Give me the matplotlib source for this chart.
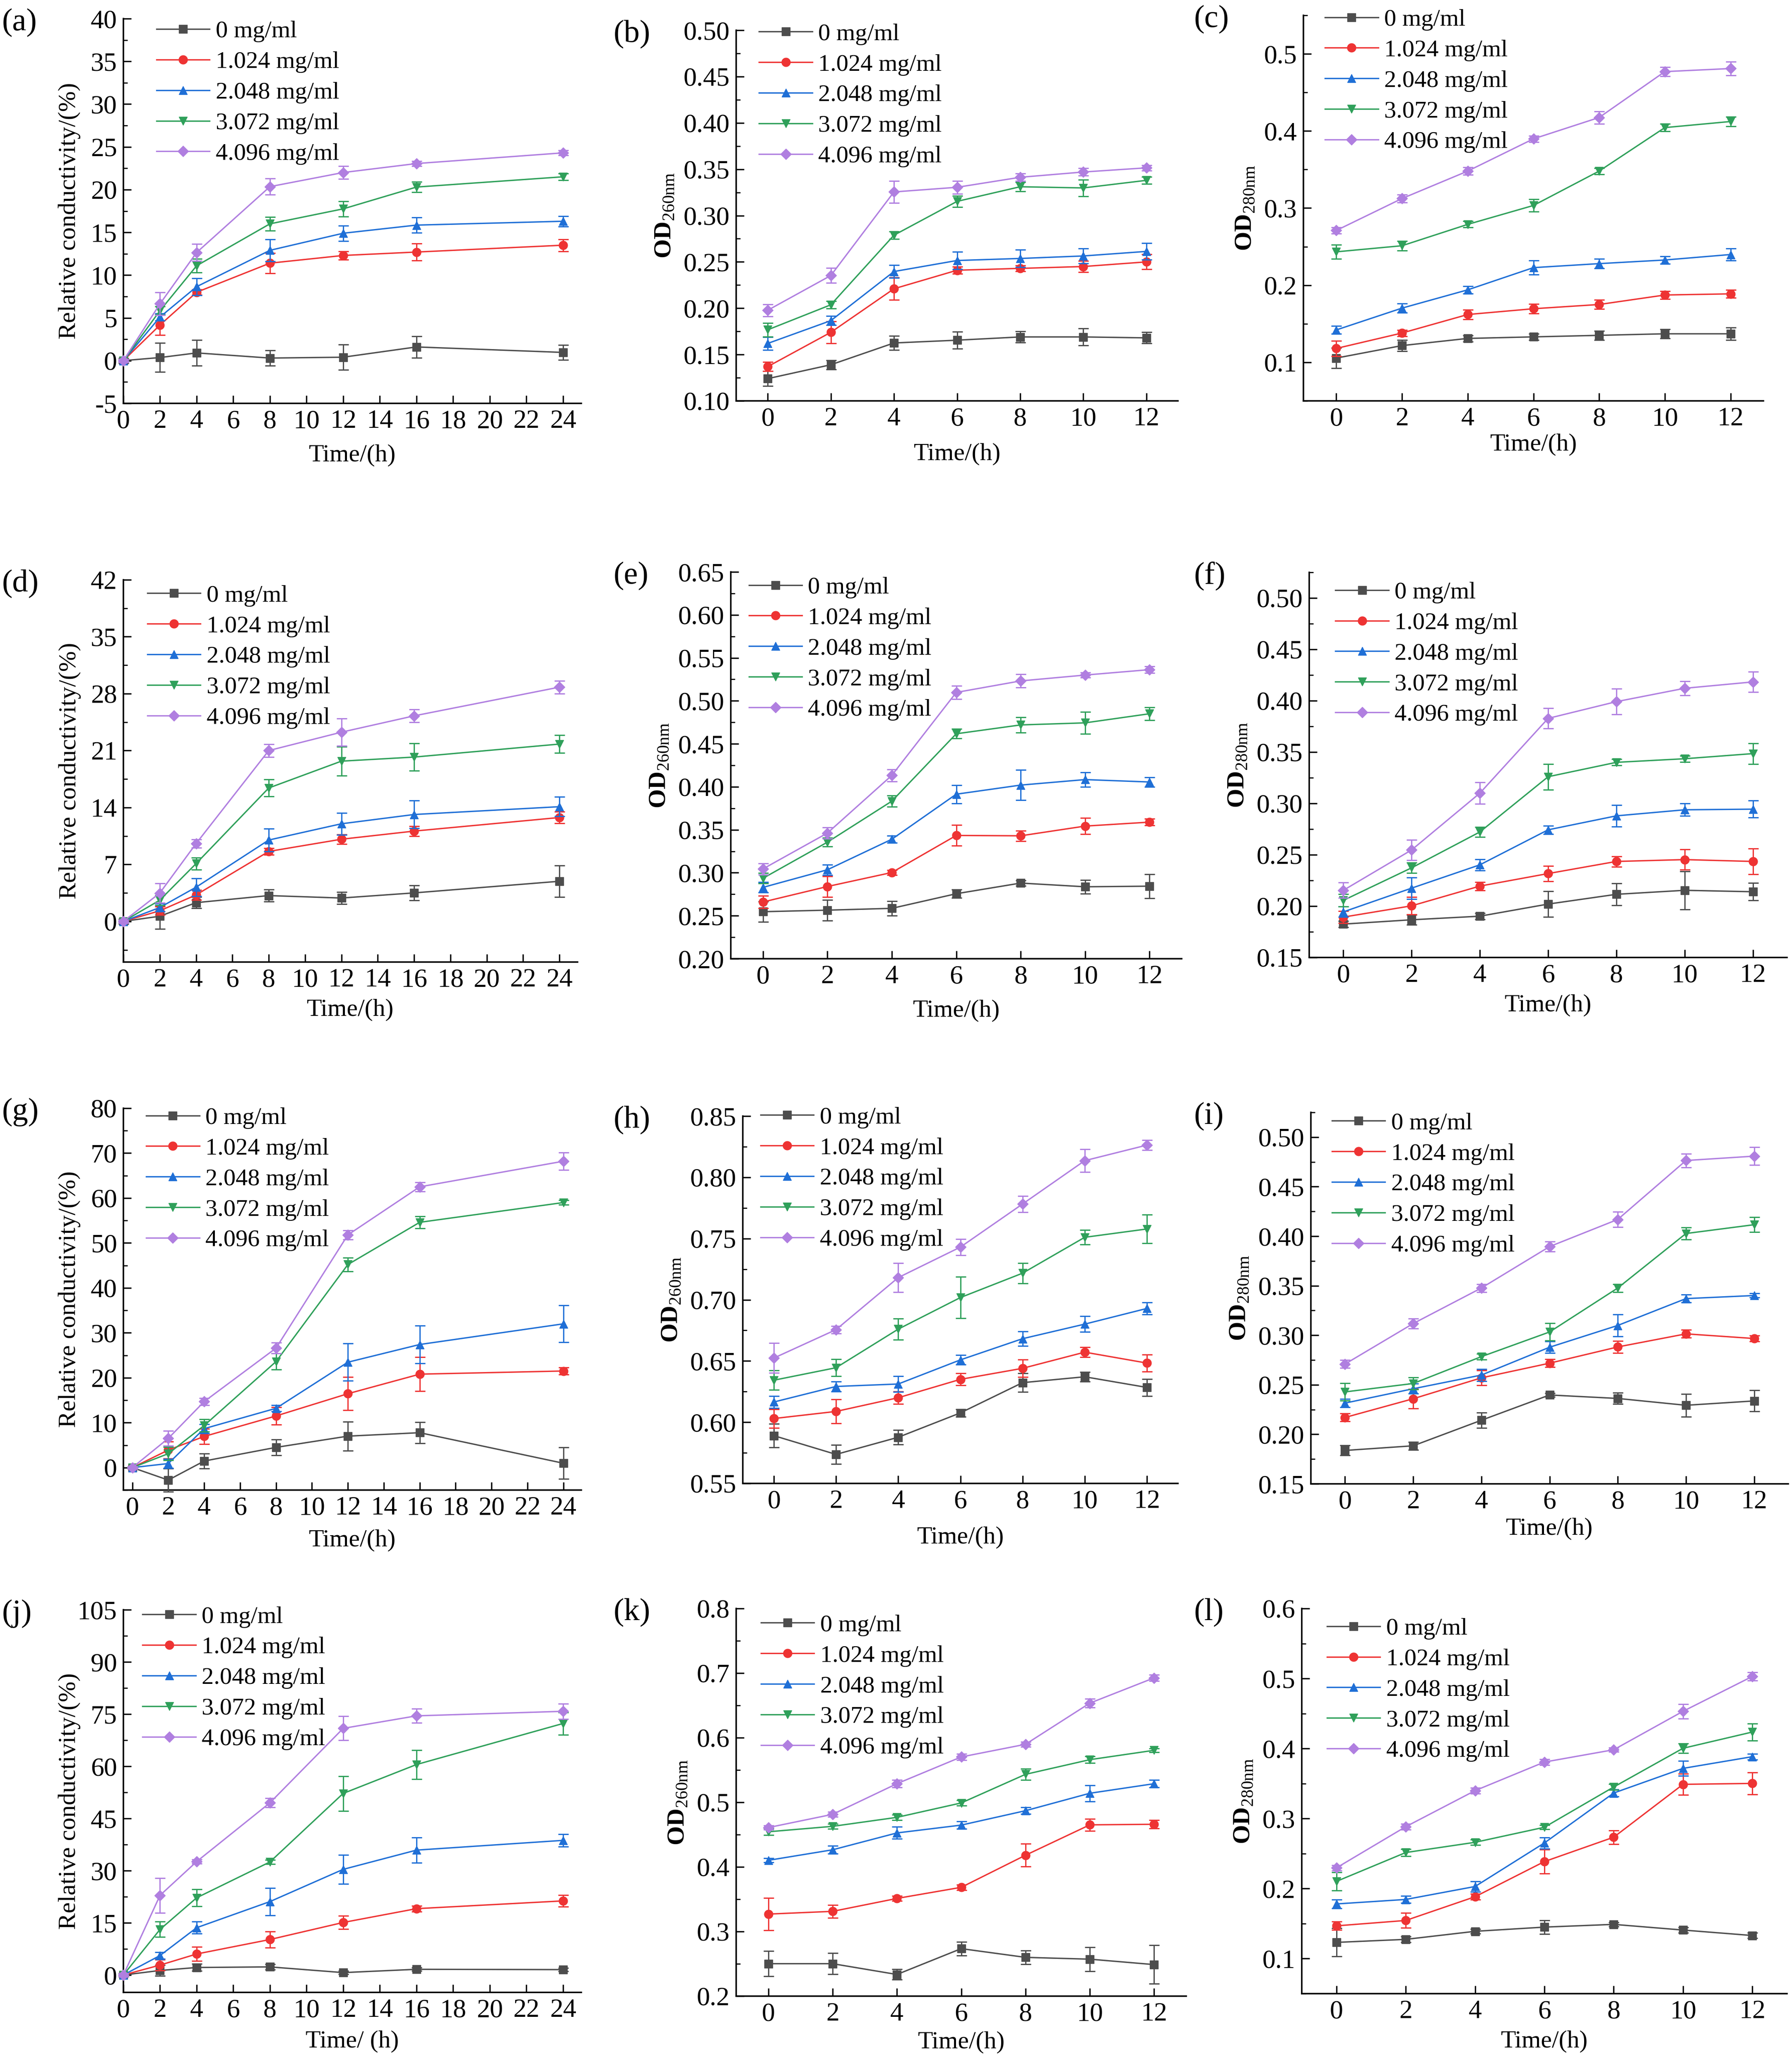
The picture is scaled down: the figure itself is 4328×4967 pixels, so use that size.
import numpy as np
import matplotlib
matplotlib.use('Agg')
import matplotlib.pyplot as plt
from matplotlib.ticker import MultipleLocator, FormatStrFormatter

plt.rcParams['font.family'] = ['Liberation Serif', 'DejaVu Serif']
plt.rcParams['mathtext.fontset'] = 'custom'
plt.rcParams['mathtext.rm'] = 'Liberation Serif'
plt.rcParams['mathtext.bf'] = 'Liberation Serif:bold'
plt.rcParams['axes.unicode_minus'] = False

# series names / colours / markers
conc = ['0 mg/ml', '1.024 mg/ml', '2.048 mg/ml', '3.072 mg/ml', '4.096 mg/ml']
colors = ['#4d4d4d', '#ee3333', '#1f6fd6', '#2fa05a', '#b07fe0']
markers = ['s', 'o', '^', 'v', 'D']

t_long = [0, 2, 4, 8, 12, 16, 24]
t_short = [0, 2, 4, 6, 8, 10, 12]

# (a) relative conductivity
a_mean = [[0, 0.36, 0.9, 0.3, 0.4, 1.6, 0.96],
          [0, 4.17, 8.0, 11.4, 12.3, 12.7, 13.5],
          [0, 5.1, 8.65, 12.9, 14.9, 15.85, 16.3],
          [0, 5.85, 11.1, 16.0, 17.75, 20.3, 21.5],
          [0, 6.65, 12.65, 20.35, 22.0, 23.05, 24.3]]
a_err = [[0.3, 1.7, 1.5, 0.9, 1.5, 1.25, 0.85],
         [0.2, 1.2, 0.3, 1.2, 0.5, 1.0, 0.7],
         [0.2, 0.4, 1.0, 1.3, 0.9, 0.9, 0.6],
         [0.2, 0.5, 0.8, 0.8, 0.9, 0.6, 0.4],
         [0.2, 1.35, 1.0, 0.95, 0.75, 0.3, 0.3]]

# (b) OD260
b_mean = [[0.124, 0.139, 0.1625, 0.1655, 0.169, 0.169, 0.168],
          [0.137, 0.174, 0.221, 0.241, 0.243, 0.245, 0.250],
          [0.162, 0.1866, 0.2396, 0.2515, 0.2537, 0.2564, 0.2613],
          [0.1767, 0.2037, 0.2788, 0.3153, 0.3311, 0.3298, 0.338],
          [0.1978, 0.2353, 0.3255, 0.3305, 0.3413, 0.347, 0.3515]]
b_err = [[0.008, 0.005, 0.0075, 0.009, 0.006, 0.009, 0.006],
         [0.005, 0.012, 0.012, 0.004, 0.003, 0.006, 0.008],
         [0.007, 0.005, 0.007, 0.0095, 0.0095, 0.008, 0.009],
         [0.0075, 0.004, 0.004, 0.006, 0.005, 0.009, 0.004],
         [0.0065, 0.008, 0.012, 0.007, 0.004, 0.004, 0.003]]

# (c) OD280
c_mean = [[0.1055, 0.1217, 0.131, 0.133, 0.135, 0.137, 0.137],
          [0.118, 0.138, 0.162, 0.1695, 0.175, 0.1873, 0.1888],
          [0.142, 0.1703, 0.194, 0.2228, 0.228, 0.2327, 0.2398],
          [0.2433, 0.2512, 0.2789, 0.3034, 0.348, 0.4044, 0.4123],
          [0.271, 0.3124, 0.348, 0.3898, 0.4175, 0.477, 0.481]]
c_err = [[0.013, 0.007, 0.004, 0.004, 0.006, 0.006, 0.008],
         [0.01, 0.004, 0.006, 0.006, 0.006, 0.005, 0.005],
         [0.005, 0.006, 0.005, 0.009, 0.006, 0.005, 0.008],
         [0.009, 0.006, 0.004, 0.008, 0.004, 0.005, 0.006],
         [0.004, 0.005, 0.005, 0.004, 0.008, 0.006, 0.009]]

# (d)
d_mean = [[0, 0.63, 2.3, 3.17, 2.87, 3.5, 4.93],
          [0, 1.3, 3.25, 8.6, 10.1, 11.1, 12.77],
          [0, 1.7, 4.2, 10.0, 12.0, 13.14, 14.1],
          [0, 2.6, 7.1, 16.4, 19.7, 20.2, 21.8],
          [0, 3.47, 9.56, 21.0, 23.26, 25.27, 28.8]]
d_err = [[0.3, 1.57, 0.7, 0.75, 0.75, 0.9, 1.95],
         [0.2, 0.5, 0.6, 0.4, 0.6, 0.6, 0.7],
         [0.2, 0.5, 1.1, 1.4, 1.35, 1.7, 1.2],
         [0.2, 0.6, 0.75, 1.05, 1.8, 1.7, 1.1],
         [0.2, 1.2, 0.5, 0.8, 1.7, 0.8, 0.8]]

# (e)
e_mean = [[0.2547, 0.2565, 0.2586, 0.2756, 0.288, 0.2837, 0.2844],
          [0.266, 0.284, 0.3003, 0.3434, 0.343, 0.3543, 0.3589],
          [0.283, 0.3035, 0.339, 0.3914, 0.402, 0.4084, 0.4056],
          [0.2936, 0.3356, 0.3833, 0.4617, 0.472, 0.4744, 0.485],
          [0.3045, 0.3462, 0.4133, 0.5098, 0.5232, 0.53, 0.5363]]
e_err = [[0.012, 0.012, 0.0085, 0.005, 0.003, 0.008, 0.014],
         [0.007, 0.012, 0.003, 0.012, 0.006, 0.0095, 0.004],
         [0.006, 0.006, 0.004, 0.0105, 0.0175, 0.0085, 0.0055],
         [0.006, 0.005, 0.0065, 0.0055, 0.009, 0.0127, 0.0075],
         [0.0065, 0.0065, 0.007, 0.0075, 0.0078, 0.003, 0.004]]

# (f)
f_mean = [[0.1825, 0.1867, 0.1902, 0.202, 0.2115, 0.2154, 0.214],
          [0.1893, 0.2003, 0.2195, 0.2317, 0.2435, 0.2453, 0.2435],
          [0.1944, 0.2175, 0.2402, 0.2743, 0.2879, 0.2938, 0.2944],
          [0.2056, 0.2373, 0.2722, 0.326, 0.34, 0.3435, 0.3485],
          [0.2154, 0.2547, 0.31, 0.3828, 0.3991, 0.4121, 0.4183]]
f_err = [[0.003, 0.005, 0.003, 0.0125, 0.0105, 0.0185, 0.0085],
         [0.006, 0.0085, 0.004, 0.0075, 0.005, 0.01, 0.0125],
         [0.005, 0.0105, 0.0055, 0.004, 0.0105, 0.006, 0.0083],
         [0.006, 0.005, 0.005, 0.0125, 0.003, 0.003, 0.01],
         [0.0075, 0.01, 0.0105, 0.0098, 0.0125, 0.0068, 0.01]]

# (g)
g_mean = [[0, -2.78, 1.46, 4.5, 7.0, 7.77, 0.97],
          [0, 3.9, 6.94, 11.5, 16.45, 20.8, 21.5],
          [0, 0.9, 8.67, 13.2, 23.46, 27.4, 32.0],
          [0, 3.1, 9.37, 23.6, 45.2, 54.6, 59.0],
          [0, 6.5, 14.7, 26.6, 51.8, 62.5, 68.2]]
g_err = [[0.3, 2.6, 1.65, 1.75, 3.2, 2.35, 3.5],
         [0.3, 1.9, 1.7, 1.9, 3.7, 3.8, 0.8],
         [0.3, 1.0, 1.0, 0.7, 4.16, 4.2, 4.1],
         [0.3, 1.5, 1.4, 1.8, 1.5, 1.3, 0.5],
         [0.3, 1.65, 0.8, 1.2, 1.0, 1.0, 1.95]]

# (h)
h_mean = [[0.589, 0.5737, 0.5877, 0.6076, 0.6323, 0.6371, 0.6284],
          [0.603, 0.6088, 0.62, 0.635, 0.644, 0.6572, 0.6483],
          [0.6165, 0.6292, 0.6312, 0.6509, 0.6682, 0.6801, 0.6929],
          [0.6343, 0.6445, 0.676, 0.7018, 0.7217, 0.751, 0.7578],
          [0.6524, 0.6756, 0.7181, 0.743, 0.7782, 0.8136, 0.8263]]
h_err = [[0.0097, 0.0077, 0.006, 0.003, 0.0077, 0.004, 0.007],
         [0.0077, 0.0099, 0.005, 0.005, 0.0071, 0.004, 0.0069],
         [0.005, 0.004, 0.0064, 0.004, 0.006, 0.0064, 0.005],
         [0.008, 0.007, 0.0087, 0.017, 0.0084, 0.006, 0.0117],
         [0.0122, 0.003, 0.012, 0.0066, 0.0066, 0.0092, 0.004]]

# (i)
i_mean = [[0.1837, 0.1884, 0.2142, 0.2397, 0.2362, 0.2293, 0.2337],
          [0.217, 0.2359, 0.257, 0.2718, 0.2882, 0.3014, 0.2967],
          [0.2315, 0.246, 0.2598, 0.2879, 0.3099, 0.337, 0.3401],
          [0.2428, 0.2513, 0.2784, 0.3033, 0.3477, 0.4027, 0.4116],
          [0.2709, 0.3118, 0.3477, 0.3895, 0.4169, 0.4764, 0.4808]]
i_err = [[0.005, 0.004, 0.0076, 0.002, 0.0057, 0.0116, 0.0107],
         [0.004, 0.01, 0.0075, 0.004, 0.006, 0.004, 0.003],
         [0.004, 0.005, 0.006, 0.006, 0.011, 0.004, 0.002],
         [0.0088, 0.006, 0.003, 0.0088, 0.004, 0.006, 0.0076],
         [0.004, 0.005, 0.004, 0.005, 0.0079, 0.007, 0.009]]

# (j)
j_mean = [[0, 1.3, 2.16, 2.33, 0.69, 1.64, 1.55],
          [0, 2.85, 6.04, 10.2, 15.1, 19.07, 21.3],
          [0, 5.6, 13.6, 21.1, 30.37, 35.9, 38.7],
          [0, 13.1, 22.2, 32.5, 52.2, 60.5, 72.3],
          [0, 22.9, 32.6, 49.5, 70.9, 74.5, 75.8]]
j_err = [[0.5, 1.5, 1.0, 0.8, 0.5, 0.5, 0.5],
         [0.5, 1.5, 2.0, 2.3, 1.9, 0.8, 1.7],
         [0.5, 0.9, 1.7, 3.9, 4.2, 3.6, 1.8],
         [0.5, 2.2, 2.4, 0.6, 5.0, 4.2, 3.2],
         [0.5, 5.0, 0.6, 1.3, 3.45, 2.0, 2.2]]

# (k)
k_mean = [[0.2502, 0.2502, 0.2335, 0.2735, 0.26, 0.2572, 0.2488],
          [0.327, 0.3312, 0.3512, 0.3684, 0.4181, 0.4651, 0.466],
          [0.4102, 0.4265, 0.4526, 0.4647, 0.487, 0.514, 0.5288],
          [0.4544, 0.4628, 0.4767, 0.499, 0.5433, 0.566, 0.5805],
          [0.4609, 0.4814, 0.5288, 0.5702, 0.5898, 0.6535, 0.6926]]
k_err = [[0.0195, 0.0163, 0.008, 0.0107, 0.0107, 0.0186, 0.0298],
         [0.025, 0.0098, 0.004, 0.004, 0.0177, 0.0093, 0.0065],
         [0.003, 0.006, 0.0093, 0.006, 0.005, 0.0126, 0.006],
         [0.005, 0.004, 0.004, 0.004, 0.0088, 0.005, 0.003],
         [0.003, 0.004, 0.006, 0.005, 0.004, 0.0065, 0.005]]

# (l)
l_mean = [[0.1232, 0.1275, 0.139, 0.145, 0.1489, 0.1408, 0.133],
          [0.1468, 0.1545, 0.1884, 0.2386, 0.2734, 0.3489, 0.3502],
          [0.1781, 0.1845, 0.203, 0.2652, 0.3365, 0.3717, 0.3884],
          [0.2103, 0.2515, 0.2661, 0.2876, 0.3451, 0.4004, 0.4236],
          [0.2296, 0.2884, 0.3399, 0.3807, 0.3983, 0.4532, 0.503]]
l_err = [[0.02, 0.004, 0.003, 0.0099, 0.003, 0.004, 0.004],
         [0.006, 0.0107, 0.004, 0.0172, 0.0099, 0.015, 0.0159],
         [0.006, 0.005, 0.0075, 0.008, 0.005, 0.0107, 0.004],
         [0.0129, 0.005, 0.004, 0.003, 0.004, 0.007, 0.012],
         [0.004, 0.004, 0.004, 0.004, 0.003, 0.0103, 0.006]]

W, H = 4328, 4967
fig = plt.figure(figsize=(W / 100, H / 100), dpi=100)

cond_lab = 'Relative conductivity/(%)'
od260 = r'$\mathbf{OD}_{\mathrm{260nm}}$'
od280 = r'$\mathbf{OD}_{\mathrm{280nm}}$'

# panel: letter, x, mean, err, box(px: left,right,top,bottom), xlim, ylim, ymajor, yminor, yfmt,
#        ylabel, xlabel, legend anchor, xlabel pad
panels = [
    ('(a)', t_long, a_mean, a_err, (298, 1404, 45, 974), (0, 25), (-5, 40), 5, 2.5, '%d', cond_lab, 'Time/(h)', (0.072, 0.995), 18),
    ('(b)', t_short, b_mean, b_err, (1778, 2845, 73, 968), (-1, 13), (0.10, 0.50), 0.05, 0.025, '%.2f', od260, 'Time/(h)', (0.052, 1.019), 20),
    ('(c)', t_short, c_mean, c_err, (3148, 4259, 37, 968), (-1, 13), (0.05, 0.55), 0.1, 0.05, '%.1f', od280, 'Time/(h)', (0.047, 1.017), 4),
    ('(d)', t_long, d_mean, d_err, (298, 1395, 1400, 2323), (0, 25), (-5, 42), 7, 3.5, '%d', cond_lab, 'Time/(h)', (0.053, 0.987), 11),
    ('(e)', t_short, e_mean, e_err, (1765, 2854, 1381, 2315), (-1, 13), (0.20, 0.65), 0.05, 0.025, '%.2f', od260, 'Time/(h)', (0.04, 0.988), 18),
    ('(f)', t_short, f_mean, f_err, (3162, 4316, 1382, 2312), (-1, 13), (0.15, 0.525), 0.05, 0.025, '%.2f', od280, 'Time/(h)', (0.055, 0.976), 11),
    ('(g)', t_long, g_mean, g_err, (298, 1404, 2676, 3598), (-0.5, 25), (-5, 80), 10, 5, '%d', cond_lab, 'Time/(h)', (0.05, 1.003), 15),
    ('(h)', t_short, h_mean, h_err, (1794, 2845, 2695, 3582), (-1, 13), (0.55, 0.85), 0.05, 0.025, '%.2f', od260, 'Time/(h)', (0.041, 1.026), 22),
    ('(i)', t_short, i_mean, i_err, (3166, 4319, 2686, 3583), (-1, 13), (0.15, 0.525), 0.05, 0.025, '%.2f', od280, 'Time/(h)', (0.044, 1.0), 6),
    ('(j)', t_long, j_mean, j_err, (298, 1404, 3887, 4811), (0, 25), (-5, 105), 15, 7.5, '%d', cond_lab, 'Time/ (h)', (0.042, 1.01), 13),
    ('(k)', t_short, k_mean, k_err, (1778, 2865, 3884, 4820), (-1, 13), (0.2, 0.8), 0.1, 0.05, '%.1f', od260, 'Time/(h)', (0.055, 0.985), 8),
    ('(l)', t_short, l_mean, l_err, (3144, 4316, 3884, 4814), (-1, 13), (0.05, 0.6), 0.1, 0.05, '%.1f', od280, 'Time/(h)', (0.052, 0.976), 11),
]

fs_tick = 46
fs_lab = 43
fs_leg = 42
for letter, x, mean, err, box, xlim, ylim, ymaj, ymin, yfmt, ylab, xlab, anchor, xpad in panels:
    l, r, t, b = box
    ax = fig.add_axes([l / W, 1 - b / H, (r - l) / W, (b - t) / H])
    for k in range(5):
        ax.errorbar(x, mean[k], yerr=err[k], fmt='none', ecolor=colors[k],
                    elinewidth=2.2, capsize=9, capthick=2.2, clip_on=False, zorder=3 + k)
        ax.plot(x, mean[k], color=colors[k], marker=markers[k],
                markersize=15 if markers[k] != 'D' else 13, lw=2.4,
                label=conc[k], clip_on=False, zorder=3.5 + k)
    ax.set_xlim(*xlim)
    ax.set_ylim(*ylim)
    ax.set_xticks(x if x is t_short else list(range(0, 25, 2)))
    ax.yaxis.set_major_locator(MultipleLocator(ymaj))
    ax.yaxis.set_minor_locator(MultipleLocator(ymin))
    ax.yaxis.set_major_formatter(FormatStrFormatter(yfmt))
    ax.spines['top'].set_visible(False)
    ax.spines['right'].set_visible(False)
    for s in ['left', 'bottom']:
        ax.spines[s].set_linewidth(2.6)
    ax.tick_params(which='major', direction='in', length=14, width=2.4, labelsize=fs_tick, pad=11)
    ax.tick_params(which='minor', direction='in', length=7, width=2.0)
    ax.set_ylabel(ylab, fontsize=fs_lab, labelpad=13)
    if ylab == cond_lab:
        ax.yaxis.set_label_coords(-0.093, 0.5)
    ax.set_xlabel(xlab, fontsize=fs_lab, labelpad=xpad)
    ax.legend(loc='upper left', bbox_to_anchor=anchor, frameon=False, fontsize=fs_leg,
              borderaxespad=0, borderpad=0, handlelength=2.2, handletextpad=0.25,
              labelspacing=0.36)
    # panel letter
    if l < 1000:
        lx = 5
    elif l < 3000:
        lx = 1482
    else:
        lx = 2884
    fig.text(lx / W, 1 - (t - 25) / H, letter, fontsize=55, va='top', ha='left')

fig.savefig('out.png', dpi=100)
